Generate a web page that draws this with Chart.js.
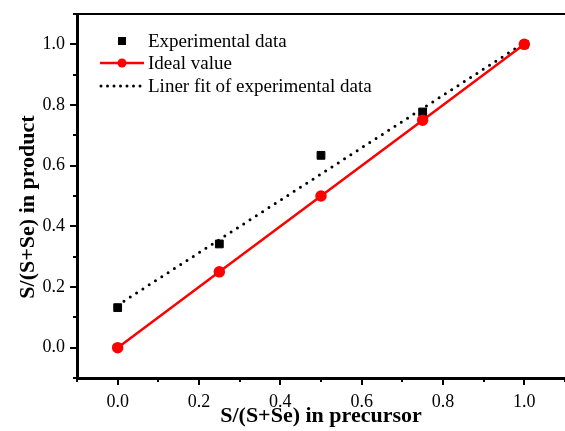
<!DOCTYPE html>
<html>
<head>
<meta charset="utf-8">
<script src="https://cdn.jsdelivr.net/npm/chart.js@4.4.1/dist/chart.umd.min.js"></script>
<style>
html, body { margin: 0; padding: 0; overflow: hidden; background: #fff; }
#chart { display: block; }
</style>
</head>
<body>
<canvas id="chart" width="565" height="431"></canvas>
<script>
// values
var precursor = [0, 0.25, 0.5, 0.75, 1.0];
var experimental = [0.132, 0.342, 0.634, 0.777, 1.0];
var ideal = [0, 0.25, 0.5, 0.75, 1.0];
var fitX = [0, 1.0];
var fitY = [0.14, 1.005];
var legendLabels = ['Experimental data', 'Ideal value', 'Liner fit of experimental data'];

var serif = "'Liberation Serif', 'Times New Roman', serif";

function isMajor(v) {
    return Math.abs(Math.round(v * 10)) % 2 === 0;
}

function toPoints(xs, ys) {
    return xs.map(function(x, i) { return {x: x, y: ys[i]}; });
}

// top frame line, major/minor ticks and the legend
var frame = {
    id: 'frame',
    afterDraw: function(chart) {
        var ctx = chart.ctx, a = chart.chartArea;
        var xs = chart.scales.x, ys = chart.scales.y;
        ctx.save();
        ctx.strokeStyle = '#000';
        ctx.lineWidth = 2;
        ctx.beginPath();
        ctx.moveTo(a.left, a.top);
        ctx.lineTo(chart.width, a.top);
        ctx.stroke();

        xs.ticks.forEach(function(t) {
            var px = Math.round(xs.getPixelForValue(t.value));
            var len = isMajor(t.value) ? 7 : 4;
            ctx.beginPath();
            ctx.moveTo(px, a.bottom);
            ctx.lineTo(px, a.bottom + len);
            ctx.stroke();
        });
        ys.ticks.forEach(function(t) {
            var py = Math.round(ys.getPixelForValue(t.value));
            var len = isMajor(t.value) ? 7 : 4;
            ctx.beginPath();
            ctx.moveTo(a.left, py);
            ctx.lineTo(a.left - len, py);
            ctx.stroke();
        });

        // legend
        var lx = a.left + 23, mx = a.left + 45, tx = a.left + 71;
        var rows = [a.top + 27, a.top + 49, a.top + 72];
        ctx.font = '19px ' + serif;
        ctx.fillStyle = '#000';
        ctx.textBaseline = 'middle';
        ctx.textAlign = 'left';
        legendLabels.forEach(function(txt, i) {
            ctx.fillText(txt, tx, rows[i] + 1);
        });
        ctx.fillRect(mx - 4, rows[0] - 4, 8, 8);

        ctx.strokeStyle = '#ff0000';
        ctx.lineWidth = 2.5;
        ctx.beginPath();
        ctx.moveTo(lx, rows[1]);
        ctx.lineTo(lx + 44, rows[1]);
        ctx.stroke();
        ctx.fillStyle = '#ff0000';
        ctx.beginPath();
        ctx.arc(mx, rows[1], 4.5, 0, Math.PI * 2);
        ctx.fill();

        ctx.strokeStyle = '#000';
        ctx.lineWidth = 3;
        ctx.lineCap = 'round';
        ctx.setLineDash([0, 6.5]);
        ctx.beginPath();
        ctx.moveTo(lx + 1, rows[2]);
        ctx.lineTo(lx + 42, rows[2]);
        ctx.stroke();
        ctx.restore();
    }
};

var ctx = document.getElementById('chart').getContext('2d');

var config = {
    type: 'scatter',
    data: {
        datasets: [{
            label: legendLabels[1],
            data: toPoints(precursor, ideal),
            showLine: true,
            borderColor: '#ff0000',
            borderWidth: 2.5,
            pointBackgroundColor: '#ff0000',
            pointBorderColor: '#ff0000',
            pointRadius: 4.5,
            order: 1
        }, {
            label: legendLabels[0],
            data: toPoints(precursor, experimental),
            showLine: false,
            pointStyle: 'rect',
            pointBackgroundColor: '#000',
            pointBorderColor: '#000',
            pointRadius: 5.5,
            order: 2
        }, {
            label: legendLabels[2],
            data: toPoints(fitX, fitY),
            showLine: true,
            borderColor: '#000',
            borderWidth: 3,
            borderDash: [0, 7.5],
            borderCapStyle: 'round',
            pointRadius: 0,
            order: 3
        }]
    },
    options: {
        responsive: false,
        animation: false,
        layout: { autoPadding: false, padding: { top: 14, right: 0, left: 0, bottom: 0 } },
        plugins: {
            legend: { display: false },
            tooltip: { enabled: false }
        },
        scales: {
            x: {
                type: 'linear',
                min: -0.1,
                max: 1.1,
                afterFit: function(s) { s.height = 53; s.paddingLeft = 0; s.paddingRight = 0; },
                grid: { display: false, drawTicks: false },
                border: { display: true, color: '#000', width: 3 },
                ticks: {
                    stepSize: 0.1,
                    maxTicksLimit: 20,
                    padding: 13,
                    color: '#000',
                    maxRotation: 0,
                    autoSkip: false,
                    font: { family: serif, size: 18 },
                    callback: function(v) { return isMajor(v) ? v.toFixed(1) : ''; }
                },
                title: {
                    display: true,
                    text: 'S/(S+Se) in precursor',
                    color: '#000',
                    font: { family: serif, size: 22, weight: 'bold', lineHeight: 1 }
                }
            },
            y: {
                type: 'linear',
                min: -0.1,
                max: 1.1,
                afterFit: function(s) { s.width = 77; s.paddingTop = 0; s.paddingBottom = 0; },
                grid: { display: false, drawTicks: false },
                border: { display: true, color: '#000', width: 3 },
                ticks: {
                    stepSize: 0.1,
                    maxTicksLimit: 20,
                    padding: 12,
                    color: '#000',
                    autoSkip: false,
                    font: { family: serif, size: 18 },
                    callback: function(v) { return isMajor(v) ? v.toFixed(1) : ''; }
                },
                title: {
                    display: true,
                    text: 'S/(S+Se) in product    ',
                    color: '#000',
                    padding: { top: 17, bottom: 0 },
                    font: { family: serif, size: 22, weight: 'bold', lineHeight: 1 }
                }
            }
        }
    },
    plugins: [frame]
};

window.productChart = new Chart(ctx, config);
</script>
</body>
</html>
